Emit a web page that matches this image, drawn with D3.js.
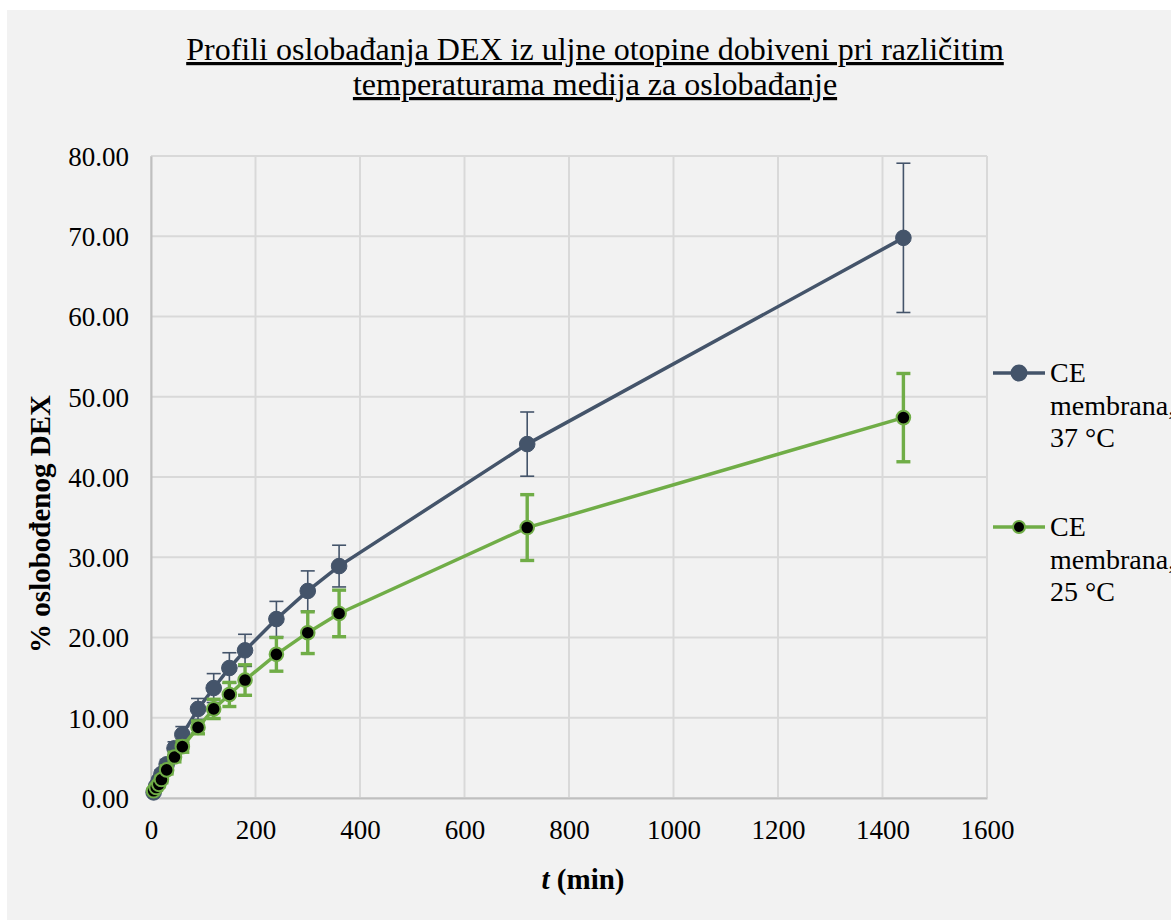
<!DOCTYPE html>
<html>
<head>
<meta charset="utf-8">
<script src="https://cdn.jsdelivr.net/npm/d3@7"></script>
<style>
  body { margin: 0; background: #fff; }
  text { font-family: "Liberation Serif", "Times New Roman", serif; fill: #000; }
</style>
</head>
<body>
<svg id="chart" width="1171" height="921"></svg>
<script>
// vrijeme uzorkovanja (min)
var times = [5, 10, 15, 20, 30, 45, 60, 90, 120, 150, 180, 240, 300, 360, 720, 1440];
// CE membrana, 37 °C
var mean37 = [0.7, 1.5, 2.2, 3.0, 4.2, 6.2, 7.9, 11.1, 13.7, 16.2, 18.4, 22.3, 25.8, 28.9, 44.1, 69.8];
var sd37   = [0.2, 0.3, 0.4, 0.5, 0.6, 0.8, 1.0, 1.3, 1.8, 1.9, 2.0, 2.2, 2.5, 2.6, 4.0, 9.3];
// CE membrana, 25 °C
var mean25 = [0.9, 1.3, 1.7, 2.3, 3.5, 5.1, 6.4, 8.8, 11.1, 12.9, 14.7, 17.9, 20.6, 23.0, 33.7, 47.4];
var sd25   = [0.2, 0.3, 0.3, 0.4, 0.5, 0.6, 0.7, 0.8, 1.2, 1.5, 1.9, 2.1, 2.6, 2.9, 4.1, 5.5];
var seriesNames = ["CE membrana, 37 °C", "CE membrana, 25 °C"];
var xTicks = [0, 200, 400, 600, 800, 1000, 1200, 1400, 1600];
var yTicks = [0, 10, 20, 30, 40, 50, 60, 70, 80];

var svg = d3.select("#chart");
var pLeft = 151, pRight = 987, pTop = 156, pBottom = 798;
var blue = "#44546a", green = "#70ad47";

svg.append("rect")
    .attr("x", 7).attr("y", 10).attr("width", 1164).attr("height", 910)
    .attr("fill", "#f2f2f2");

var x = d3.scaleLinear().domain([0, 1600]).range([pLeft, pRight]);
var y = d3.scaleLinear().domain([0, 80]).range([pBottom, pTop]);

// mreza
var grid = svg.append("g");
grid.selectAll("line.v").data(xTicks).enter().append("line")
    .attr("x1", function(d) { return x(d); }).attr("x2", function(d) { return x(d); })
    .attr("y1", pTop).attr("y2", pBottom)
    .attr("stroke", "#d9d9d9").attr("stroke-width", 2);
grid.selectAll("line.h").data(yTicks).enter().append("line")
    .attr("x1", pLeft).attr("x2", pRight)
    .attr("y1", function(d) { return y(d); }).attr("y2", function(d) { return y(d); })
    .attr("stroke", "#d9d9d9").attr("stroke-width", 2);

// osi
var xAxis = svg.append("g")
    .attr("transform", "translate(0," + pBottom + ")")
    .call(d3.axisBottom(x).tickValues(xTicks).tickSize(0).tickPadding(22).tickFormat(d3.format("d")));
var yAxis = svg.append("g")
    .attr("transform", "translate(" + pLeft + ",0)")
    .call(d3.axisLeft(y).tickValues(yTicks).tickSize(0).tickPadding(22).tickFormat(d3.format(".2f")));
[xAxis, yAxis].forEach(function(a) {
  a.select(".domain").attr("stroke", "#bfbfbf").attr("stroke-width", 2);
  a.selectAll("text").style("font-family", "Liberation Serif").style("font-size", "27px");
});
yAxis.selectAll("text").attr("dy", "0.35em");

// naslov
var title = svg.append("text")
    .attr("text-anchor", "middle")
    .style("font-size", "32px")
    .style("text-decoration", "underline");
title.append("tspan").attr("x", 595).attr("y", 60).text("Profili oslobađanja DEX iz uljne otopine dobiveni pri različitim");
title.append("tspan").attr("x", 595).attr("y", 95).text("temperaturama medija za oslobađanje");

// naslovi osi
var xt = svg.append("text")
    .attr("x", 583).attr("y", 889)
    .attr("text-anchor", "middle")
    .style("font-size", "29px").style("font-weight", "bold");
xt.append("tspan").style("font-style", "italic").text("t");
xt.append("tspan").text(" (min)");

svg.append("text")
    .attr("transform", "translate(50,524) rotate(-90)")
    .attr("text-anchor", "middle")
    .style("font-size", "29px").style("font-weight", "bold")
    .text("% oslobođenog DEX");

function drawSeries(means, sds, color, opts) {
  var pts = times.map(function(t, i) { return { t: t, m: means[i], s: sds[i] }; });
  var g = svg.append("g");
  var line = d3.line().x(function(d) { return x(d.t); }).y(function(d) { return y(d.m); });
  g.append("path").datum(pts).attr("d", line)
      .attr("fill", "none").attr("stroke", color).attr("stroke-width", 3.5);
  var eb = g.selectAll("g.err").data(pts).enter().append("g")
      .attr("stroke", color).attr("stroke-width", opts.errWidth);
  eb.append("line")
      .attr("x1", function(d) { return x(d.t); }).attr("x2", function(d) { return x(d.t); })
      .attr("y1", function(d) { return y(d.m + d.s); }).attr("y2", function(d) { return y(d.m - d.s); });
  [1, -1].forEach(function(sign) {
    eb.append("line")
        .attr("x1", function(d) { return x(d.t) - 7; }).attr("x2", function(d) { return x(d.t) + 7; })
        .attr("y1", function(d) { return y(d.m + sign * d.s); })
        .attr("y2", function(d) { return y(d.m + sign * d.s); });
  });
  g.selectAll("circle").data(pts).enter().append("circle")
      .attr("cx", function(d) { return x(d.t); }).attr("cy", function(d) { return y(d.m); })
      .attr("r", opts.r).attr("fill", opts.fill).attr("stroke", color).attr("stroke-width", opts.sw);
}

drawSeries(mean37, sd37, blue, { errWidth: 1.6, r: 7.8, fill: blue, sw: 1 });
drawSeries(mean25, sd25, green, { errWidth: 3.4, r: 6.8, fill: "#000", sw: 2 });

// legenda
var legend = [
  { name: seriesNames[0], color: blue, fill: blue, r: 7.5, y: 373 },
  { name: seriesNames[1], color: green, fill: "#000", r: 6, y: 527 }
];
var lg = svg.selectAll("g.legend").data(legend).enter().append("g");
lg.append("line")
    .attr("x1", 993).attr("x2", 1045)
    .attr("y1", function(d) { return d.y; }).attr("y2", function(d) { return d.y; })
    .attr("stroke", function(d) { return d.color; }).attr("stroke-width", 3.5);
lg.append("circle")
    .attr("cx", 1019).attr("cy", function(d) { return d.y; })
    .attr("r", function(d) { return d.r; })
    .attr("fill", function(d) { return d.fill; })
    .attr("stroke", function(d) { return d.color; }).attr("stroke-width", 2);
var lt = lg.append("text").style("font-size", "28px");
lt.append("tspan").attr("x", 1050).attr("y", function(d) { return d.y + 9; })
    .text(function(d) { return d.name.split(" ")[0]; });
lt.append("tspan").attr("x", 1050).attr("y", function(d) { return d.y + 42; })
    .text(function(d) { return d.name.split(" ")[1]; });
lt.append("tspan").attr("x", 1050).attr("y", function(d) { return d.y + 74; })
    .text(function(d) { return d.name.split(" ").slice(2).join(" "); });
</script>
</body>
</html>
